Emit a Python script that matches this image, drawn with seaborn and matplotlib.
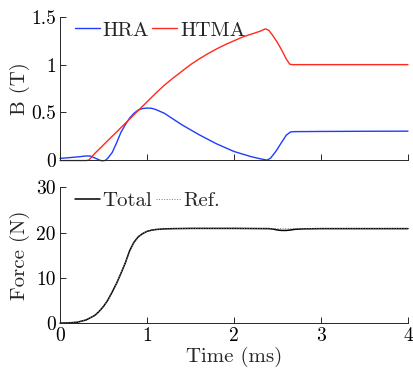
import seaborn as sns
import matplotlib.pyplot as plt
from matplotlib.ticker import FuncFormatter

# HRA / HTMA flux density (T) over time (ms)
t_hra = [0, 0.1, 0.2, 0.3, 0.35, 0.4, 0.45, 0.48, 0.52, 0.55, 0.6, 0.65, 0.7, 0.75, 0.8,
         0.85, 0.9, 0.95, 1.0, 1.05, 1.1, 1.2, 1.3, 1.4, 1.6, 1.8, 2.0, 2.2, 2.3, 2.35,
         2.38, 2.42, 2.48, 2.55, 2.6, 2.65, 2.7, 3.0, 3.5, 4.0]
b_hra = [0.018, 0.025, 0.033, 0.043, 0.042, 0.022, 0.002, -0.008, -0.004, 0.02, 0.08, 0.18,
         0.29, 0.37, 0.44, 0.49, 0.525, 0.54, 0.545, 0.543, 0.53, 0.49, 0.43, 0.37, 0.265,
         0.17, 0.09, 0.035, 0.014, 0.005, 0.0, 0.02, 0.09, 0.19, 0.26, 0.295, 0.298, 0.3,
         0.302, 0.303]

t_htma = [0, 0.3, 0.33, 0.4, 0.5, 0.6, 0.7, 0.8, 0.9, 1.0, 1.1, 1.2, 1.3, 1.4, 1.5, 1.6,
          1.7, 1.8, 1.9, 2.0, 2.1, 2.2, 2.3, 2.36, 2.4, 2.45, 2.5, 2.55, 2.6, 2.64, 2.67,
          3.0, 3.5, 4.0]
b_htma = [-0.005, -0.005, 0.0, 0.07, 0.16, 0.25, 0.34, 0.43, 0.52, 0.61, 0.70, 0.785,
          0.86, 0.93, 1.0, 1.06, 1.115, 1.165, 1.21, 1.25, 1.29, 1.32, 1.35, 1.375, 1.36,
          1.30, 1.23, 1.15, 1.06, 1.005, 1.0, 1.0, 1.0, 1.0]

# force (N) over time (ms)
t_force = [0, 0.1, 0.2, 0.3, 0.4, 0.45, 0.5, 0.55, 0.6, 0.65, 0.7, 0.75, 0.8, 0.85, 0.9,
           0.95, 1.0, 1.05, 1.1, 1.2, 1.3, 1.5, 2.0, 2.4, 2.45, 2.5, 2.55, 2.6, 2.65, 2.7,
           2.8, 3.0, 3.5, 4.0]
f_total = [0, 0.05, 0.2, 0.7, 1.7, 2.6, 3.7, 5.1, 6.9, 8.8, 11.0, 13.3, 16.0, 17.9, 19.1,
           19.8, 20.3, 20.55, 20.7, 20.85, 20.9, 20.95, 20.95, 20.9, 20.8, 20.6, 20.5, 20.5,
           20.6, 20.75, 20.85, 20.9, 20.9, 20.9]
f_ref = [0, 0.05, 0.2, 0.7, 1.7, 2.6, 3.7, 5.1, 6.9, 8.8, 11.0, 13.3, 16.0, 17.9, 19.1,
         19.8, 20.3, 20.55, 20.7, 20.85, 20.9, 20.95, 20.95, 20.9, 20.9, 20.9, 20.9, 20.9,
         20.9, 20.9, 20.9, 20.9, 20.9, 20.9]

x_ticks = [0, 1, 2, 3, 4]
b_ticks = [0, 0.5, 1, 1.5]
f_ticks = [0, 10, 20, 30]

sns.set_theme(style='ticks')
plt.rcParams['font.family'] = 'serif'
plt.rcParams['font.serif'] = ['cmr10']
plt.rcParams['mathtext.fontset'] = 'cm'
plt.rcParams['axes.formatter.use_mathtext'] = True
plt.rcParams['axes.unicode_minus'] = False

fs = 14
fs_lab = 15
ax_col = '#262626'

fig = plt.figure(figsize=(4.14, 3.68), dpi=100)
ax1 = fig.add_axes([0.145, 0.565, 0.8405, 0.389])
ax2 = fig.add_axes([0.145, 0.122, 0.8405, 0.3685])

sns.lineplot(x=t_hra, y=b_hra, ax=ax1, color='#1f3cff', lw=1.0, label='HRA', clip_on=False)
sns.lineplot(x=t_htma, y=b_htma, ax=ax1, color='#ff2a20', lw=1.0, label='HTMA', clip_on=False)

sns.lineplot(x=t_force, y=f_total, ax=ax2, color='black', lw=1.1, label='Total', clip_on=False)
sns.lineplot(x=t_force, y=f_ref, ax=ax2, color='#777777', lw=0.7, ls=':', label='Ref.',
             clip_on=False)

fmt = FuncFormatter(lambda v, p: '{:g}'.format(v))
for ax, yt in ((ax1, b_ticks), (ax2, f_ticks)):
    ax.set_xlim(0, 4)
    ax.set_ylim(yt[0], yt[-1])
    ax.set_xticks(x_ticks)
    ax.set_yticks(yt)
    ax.yaxis.set_major_formatter(fmt)
    ax.xaxis.set_major_formatter(fmt)
    sns.despine(ax=ax)
    for s in ('left', 'bottom'):
        ax.spines[s].set_color(ax_col)
        ax.spines[s].set_linewidth(0.7)
    ax.tick_params(direction='in', length=4, width=0.7, color=ax_col,
                   labelsize=fs, labelcolor='black', pad=3)
    ax.legend(loc='upper left', frameon=False, ncol=2, fontsize=fs_lab,
              handlelength=1.2, handletextpad=0.15, columnspacing=0.15,
              borderaxespad=0.1, borderpad=0.1, bbox_to_anchor=(0.03, 1.0))

ax1.tick_params(axis='x', labelbottom=False)
ax1.set_xlabel('')
ax1.set_ylabel('B (T)', fontsize=fs_lab)
ax2.set_ylabel('Force (N)', fontsize=fs_lab)
ax2.set_xlabel('Time (ms)', fontsize=fs_lab)
ax1.yaxis.set_label_coords(-0.087, 0.5)
ax2.yaxis.set_label_coords(-0.087, 0.5)
ax2.xaxis.set_label_coords(0.5, -0.175)

fig.savefig('out.png', dpi=100)
